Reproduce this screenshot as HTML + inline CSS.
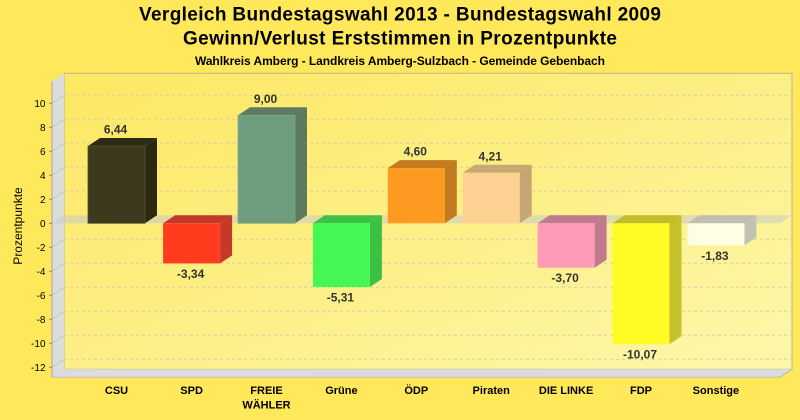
<!DOCTYPE html>
<html>
<head>
<meta charset="utf-8">
<style>
  html, body { margin: 0; padding: 0; background: #ffe85a; }
  svg { display: block; }
  text { font-family: "Liberation Sans", Arial, sans-serif; }
</style>
</head>
<body>
<svg width="800" height="420" viewBox="0 0 800 420" xmlns="http://www.w3.org/2000/svg">
  <defs>
    <linearGradient id="wall" x1="0" y1="0" x2="1" y2="1">
      <stop offset="0" stop-color="#fde762"/>
      <stop offset="1" stop-color="#fdf7aa"/>
    </linearGradient>
  </defs>
  <rect x="0" y="0" width="800" height="420" fill="#ffe85a"/>

  <!-- Titles -->
  <text x="400" y="20.5" text-anchor="middle" font-size="19" font-weight="bold" fill="#000" textLength="522" lengthAdjust="spacing">Vergleich Bundestagswahl 2013 - Bundestagswahl 2009</text>
  <text x="400" y="44.5" text-anchor="middle" font-size="19" font-weight="bold" fill="#000" textLength="434" lengthAdjust="spacing">Gewinn/Verlust Erststimmen in Prozentpunkte</text>
  <text x="400" y="65" text-anchor="middle" font-size="12" font-weight="bold" fill="#000" textLength="410" lengthAdjust="spacing">Wahlkreis Amberg - Landkreis Amberg-Sulzbach - Gemeinde Gebenbach</text>

  <!-- Back wall -->
  <rect x="64" y="73.3" width="728" height="296" fill="url(#wall)" stroke="#b8b4a0" stroke-width="1"/>
  <!-- Side wall -->
  <polygon points="52,81.3 64,73.3 64,369.3 52,377.3" fill="#dcdcdc"/>
  <!-- Floor -->
  <polygon points="64,369.3 792,369.3 780,377.3 52,377.3" fill="#dcdcdc"/>
  <line x1="792" y1="369.3" x2="780" y2="377.3" stroke="#b8b8b8" stroke-width="1"/>
  <line x1="52" y1="377.3" x2="780" y2="377.3" stroke="#c0c0c0" stroke-width="1"/>

  <!-- Gridlines on back wall -->
  <g stroke="#d6d0a8" stroke-width="1" stroke-dasharray="3,3">
    <line x1="64" y1="95.3" x2="792" y2="95.3"/>
    <line x1="64" y1="119.3" x2="792" y2="119.3"/>
    <line x1="64" y1="143.3" x2="792" y2="143.3"/>
    <line x1="64" y1="167.3" x2="792" y2="167.3"/>
    <line x1="64" y1="191.3" x2="792" y2="191.3"/>
    <line x1="64" y1="239.3" x2="792" y2="239.3"/>
    <line x1="64" y1="263.3" x2="792" y2="263.3"/>
    <line x1="64" y1="287.3" x2="792" y2="287.3"/>
    <line x1="64" y1="311.3" x2="792" y2="311.3"/>
    <line x1="64" y1="335.3" x2="792" y2="335.3"/>
    <line x1="64" y1="359.3" x2="792" y2="359.3"/>
  </g>
  <!-- Side wall tick diagonals -->
  <g stroke="#c6c6c6" stroke-width="1">
    <line x1="52" y1="103.3" x2="64" y2="95.3"/>
    <line x1="52" y1="127.3" x2="64" y2="119.3"/>
    <line x1="52" y1="151.3" x2="64" y2="143.3"/>
    <line x1="52" y1="175.3" x2="64" y2="167.3"/>
    <line x1="52" y1="199.3" x2="64" y2="191.3"/>
    <line x1="52" y1="247.3" x2="64" y2="239.3"/>
    <line x1="52" y1="271.3" x2="64" y2="263.3"/>
    <line x1="52" y1="295.3" x2="64" y2="287.3"/>
    <line x1="52" y1="319.3" x2="64" y2="311.3"/>
    <line x1="52" y1="343.3" x2="64" y2="335.3"/>
    <line x1="52" y1="367.3" x2="64" y2="359.3"/>
  </g>

  <!-- Zero plane -->
  <polygon points="52,223.3 64,215.3 792,215.3 780,223.3" fill="#c8c8c8" fill-opacity="0.55"/>

  <!-- Axis line and ticks -->
  <line x1="52" y1="81.3" x2="52" y2="377.3" stroke="#a8a8a8" stroke-width="1"/>
  <g stroke="#888" stroke-width="1">
    <line x1="49" y1="103.3" x2="52" y2="103.3"/>
    <line x1="49" y1="127.3" x2="52" y2="127.3"/>
    <line x1="49" y1="151.3" x2="52" y2="151.3"/>
    <line x1="49" y1="175.3" x2="52" y2="175.3"/>
    <line x1="49" y1="199.3" x2="52" y2="199.3"/>
    <line x1="49" y1="223.3" x2="52" y2="223.3"/>
    <line x1="49" y1="247.3" x2="52" y2="247.3"/>
    <line x1="49" y1="271.3" x2="52" y2="271.3"/>
    <line x1="49" y1="295.3" x2="52" y2="295.3"/>
    <line x1="49" y1="319.3" x2="52" y2="319.3"/>
    <line x1="49" y1="343.3" x2="52" y2="343.3"/>
    <line x1="49" y1="367.3" x2="52" y2="367.3"/>
  </g>
  <g font-size="10" fill="#000" text-anchor="end">
    <text x="45.5" y="106.8">10</text>
    <text x="45.5" y="130.8">8</text>
    <text x="45.5" y="154.8">6</text>
    <text x="45.5" y="178.8">4</text>
    <text x="45.5" y="202.8">2</text>
    <text x="45.5" y="226.8">0</text>
    <text x="45.5" y="250.8">-2</text>
    <text x="45.5" y="274.8">-4</text>
    <text x="45.5" y="298.8">-6</text>
    <text x="45.5" y="322.8">-8</text>
    <text x="45.5" y="346.8">-10</text>
    <text x="45.5" y="370.8">-12</text>
  </g>
  <text x="22" y="226" font-size="12" fill="#000" text-anchor="middle" transform="rotate(-90 22 226)">Prozentpunkte</text>

  <!-- Bars -->
  <!-- CSU -->
  <polygon points="88,146 100,138 157,138 145,146" fill="#2e2b14"/>
  <polygon points="145,146 157,138 157,215.3 145,223.3" fill="#2c2912"/>
  <rect x="88" y="146" width="57" height="77.3" fill="#3d391c" stroke="#56512e" stroke-width="0.8"/>
  <!-- SPD -->
  <polygon points="163.1,223.3 175.1,215.3 232.1,215.3 220.1,223.3" fill="#c4392a"/>
  <polygon points="220.1,223.3 232.1,215.3 232.1,255.4 220.1,263.4" fill="#c8382a"/>
  <rect x="163.1" y="223.3" width="57" height="40.1" fill="#ff3c1e"/>
  <!-- FREIE WAEHLER -->
  <polygon points="238,115.3 250,107.3 307,107.3 295,115.3" fill="#5e7b60"/>
  <polygon points="295,115.3 307,107.3 307,215.3 295,223.3" fill="#5c7a5e"/>
  <rect x="238" y="115.3" width="57" height="108" fill="#6e9e7e" stroke="#80a886" stroke-width="0.8"/>
  <!-- Gruene -->
  <polygon points="312.9,223.3 324.9,215.3 381.9,215.3 369.9,223.3" fill="#3cc244"/>
  <polygon points="369.9,223.3 381.9,215.3 381.9,279 369.9,287" fill="#3bc043"/>
  <rect x="312.9" y="223.3" width="57" height="63.7" fill="#44f752"/>
  <!-- OEDP -->
  <polygon points="387.8,168.1 399.8,160.1 456.8,160.1 444.8,168.1" fill="#c47c1f"/>
  <polygon points="444.8,168.1 456.8,160.1 456.8,215.3 444.8,223.3" fill="#c27a20"/>
  <rect x="387.8" y="168.1" width="57" height="55.2" fill="#fd9a21"/>
  <!-- Piraten -->
  <polygon points="462.7,172.8 474.7,164.8 531.7,164.8 519.7,172.8" fill="#c8a874"/>
  <polygon points="519.7,172.8 531.7,164.8 531.7,215.3 519.7,223.3" fill="#c6a673"/>
  <rect x="462.7" y="172.8" width="57" height="50.5" fill="#fcd192"/>
  <!-- DIE LINKE -->
  <polygon points="537.6,223.3 549.6,215.3 606.6,215.3 594.6,223.3" fill="#c07b8e"/>
  <polygon points="594.6,223.3 606.6,215.3 606.6,259.7 594.6,267.7" fill="#bf7a8c"/>
  <rect x="537.6" y="223.3" width="57" height="44.4" fill="#fe9bb6"/>
  <!-- FDP -->
  <polygon points="612.5,223.3 624.5,215.3 681.5,215.3 669.5,223.3" fill="#c2be28"/>
  <polygon points="669.5,223.3 681.5,215.3 681.5,336.1 669.5,344.1" fill="#c4c12a"/>
  <rect x="612.5" y="223.3" width="57" height="120.8" fill="#fffb25"/>
  <!-- Sonstige -->
  <polygon points="687.4,223.3 699.4,215.3 756.4,215.3 744.4,223.3" fill="#c0c0b2"/>
  <polygon points="744.4,223.3 756.4,215.3 756.4,237.3 744.4,245.3" fill="#c2c2b2"/>
  <rect x="687.4" y="223.3" width="57" height="22" fill="#fffde6"/>

  <!-- Value labels -->
  <g font-size="12" font-weight="bold" fill="#333" text-anchor="middle">
    <text x="115.5" y="133.5">6,44</text>
    <text x="190.6" y="277.9">-3,34</text>
    <text x="265.5" y="102.8">9,00</text>
    <text x="340.4" y="301.5">-5,31</text>
    <text x="415.3" y="155.6">4,60</text>
    <text x="490.2" y="160.3">4,21</text>
    <text x="565.1" y="282.2">-3,70</text>
    <text x="640" y="358.6">-10,07</text>
    <text x="714.9" y="259.8">-1,83</text>
  </g>

  <!-- Category labels -->
  <g font-size="11" font-weight="bold" fill="#000" text-anchor="middle">
    <text x="116.5" y="394">CSU</text>
    <text x="191.6" y="394">SPD</text>
    <text x="266.5" y="394">FREIE</text>
    <text x="266.5" y="408.5">WÄHLER</text>
    <text x="341.4" y="394">Grüne</text>
    <text x="416.3" y="394">ÖDP</text>
    <text x="491.2" y="394">Piraten</text>
    <text x="566.1" y="394">DIE LINKE</text>
    <text x="641" y="394">FDP</text>
    <text x="715.9" y="394">Sonstige</text>
  </g>
</svg>
</body>
</html>
